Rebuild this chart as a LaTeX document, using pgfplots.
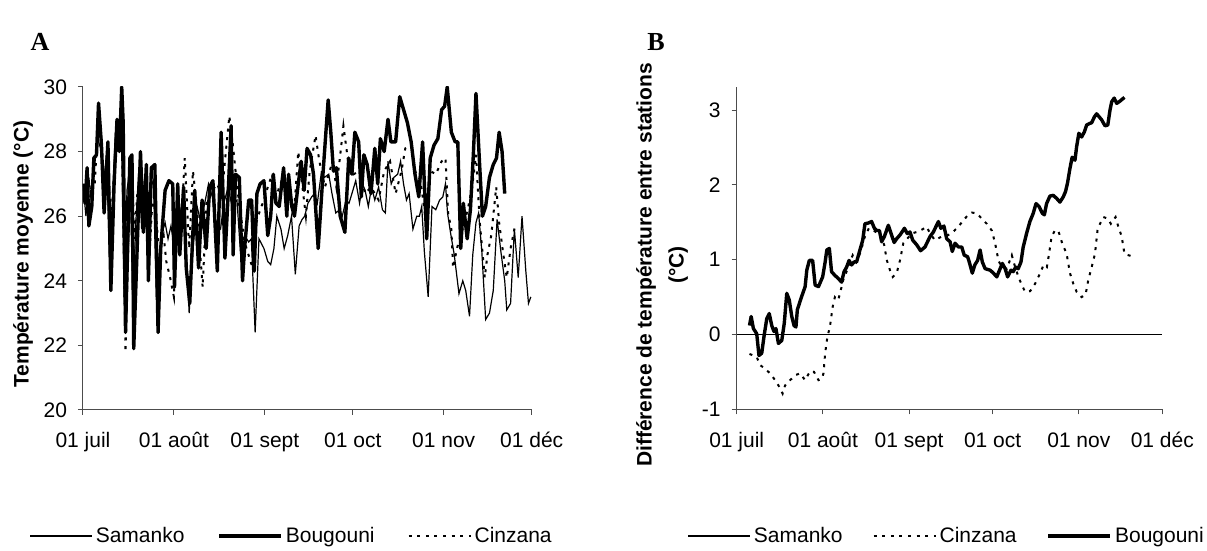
\documentclass[border=0pt]{standalone}
\usepackage{pgfplots}
\pgfplotsset{compat=1.18}
\usepackage{fontspec}
\setmainfont{Liberation Sans}
\newfontfamily\panelfont{Liberation Serif}

% Daily mean temperature (x = days since 1 July)
\pgfplotstableread{
day temp
0 27.0
1 26.0
2 27.2
3 26.3
4 27.6
5 28.4
6 28.1
7 27.0
8 27.9
9 24.8
10 26.4
11 28.5
12 28.3
13 29.1
14 23.5
15 26.8
16 27.5
17 23.2
18 25.8
19 27.4
20 25.6
21 27.2
22 24.8
23 26.9
24 27.1
25 23.5
26 24.8
27 25.5
28 25.8
29 25.3
30 25.7
31 25.1
33 26.0
34.3 26.7
36.2 23.0
37.5 25.0
38.9 26.3
40.2 25.8
41.5 26.4
42.8 27.0
44.1 26.6
45.6 25.5
46.9 25.6
48 26.4
49.5 26.9
50.6 26.4
51.5 26.4
52.5 26.5
53.6 25.0
55.1 25.4
56.5 25.2
57.4 25.3
58.7 22.4
60 25.3
61.7 25.0
63 24.6
64 24.5
65.1 25.0
66.1 26.0
67.5 25.6
68.6 25.0
69.8 25.4
71.1 26.0
72.4 24.2
73.7 25.7
74.7 25.9
75.6 26.0
76.7 26.4
78 26.6
78.9 26.7
79.9 26.4
81.2 27.3
82.3 27.2
83.8 27.3
84.9 26.7
86.2 26.1
87.5 26.2
88.4 26.0
89.7 26.5
90.7 26.4
91.7 26.7
93 27.1
94.3 26.4
95.3 27.0
96.2 26.8
97.3 26.3
98.4 26.9
99.5 26.5
100.8 26.9
102.1 26.2
103.1 26.1
104 27.7
105.1 27.0
106 27.2
107.3 27.3
108.3 27.7
109.3 27.0
110.3 26.5
111.2 26.7
112.5 25.6
113.8 26.0
114.7 26.0
115.5 26.3
116.4 24.9
117.7 23.5
119 26.3
120.3 26.2
121.6 26.5
122.7 26.6
123.6 27.0
124.3 26.1
125.3 25.5
126.6 24.8
128.2 23.6
129.5 24.0
130.5 23.7
131.8 22.9
132.9 24.8
134 25.8
134.9 26.1
136 24.9
137.3 22.8
138.6 23.0
139.9 23.7
141.2 25.9
142.5 24.9
143.8 24.0
144.5 23.1
145.8 23.3
147.1 25.6
148.4 24.1
149.7 26.0
151 24.3
151.9 23.3
152.7 23.5
}\samanko

\pgfplotstableread{
day temp
0 27.0
0.7 26.4
1.4 27.5
2 25.7
3 26.3
3.7 27.8
4.6 27.9
5.3 29.5
6.3 28.2
7.2 26.1
8.5 28.3
9.5 23.7
10.6 27.0
11.6 29.0
12.4 28.0
13.2 30.0
13.7 28.9
14.5 22.4
16 27.8
16.7 27.9
17.3 21.9
19.6 28.0
20.6 25.5
21.6 27.6
22.3 24.0
23.3 27.5
24.5 27.6
25.6 22.4
26.5 25.0
28 26.8
29.3 27.1
30.6 27.0
31.2 23.8
32.3 27.0
33 24.8
34.3 26.9
35.2 24.4
36.4 23.3
38.1 26.8
39.4 24.4
40.6 26.5
42 25.0
43.2 26.9
44.3 27.1
45.8 24.3
47.1 28.6
48.4 24.7
49.4 26.5
50.5 28.8
51.2 24.8
52 27.3
53.3 27.2
54.4 24.0
55.1 25.0
56.5 26.5
57.5 26.5
58.4 24.3
59.3 26.7
60.4 27.0
61.7 27.1
63 25.4
64 26.0
64.9 27.3
65.8 26.4
66.9 26.3
68.4 27.5
69.5 26.0
70.1 27.3
71.2 26.3
72.1 26.0
73.4 27.0
74.4 27.7
75.4 26.8
76.4 28.1
77.6 27.9
78.6 27.3
80.2 25.0
81.9 27.4
83.6 29.6
84.5 28.6
85.4 27.4
86.4 27.5
87.7 26.0
89.3 25.5
90.6 27.8
91.7 27.3
92.7 28.6
94 28.3
94.9 26.6
95.8 27.9
96.9 27.6
98.2 26.7
99.5 28.1
100.5 27.0
101.4 28.4
102.7 28.0
104 29.0
105 28.3
106.6 28.3
108 29.7
109.3 29.3
110.6 28.9
111.9 28.3
113.2 27.3
114.5 26.6
115.8 28.3
117.2 25.3
118.4 27.8
119.7 28.2
121 28.4
122.3 29.3
123.3 29.4
124.2 30.0
125.6 28.6
126.9 28.3
127.8 28.3
128.8 25.0
129.7 26.4
131 25.3
132.1 26.2
133.1 27.9
134 29.8
135.3 27.5
136.2 26.0
137.3 26.3
138.6 27.2
139.9 27.6
141 27.8
141.9 28.6
142.9 28.0
143.8 26.7
}\bougouni

\pgfplotstableread{
day temp
0 27.0
0.7 26.7
1.4 26.0
2.2 26.4
3 27.0
4 27.0
5.3 29.2
6.3 28.3
7.2 26.6
8.5 27.6
9.5 25.8
10.6 27.3
11.6 28.6
12.4 28.1
13.2 28.9
14.5 21.8
15.5 25.4
16.7 27.6
17.5 25.3
18.6 26.8
19.6 27.2
20.6 26.0
21.6 26.9
22.5 24.5
23.5 26.2
24.5 26.6
25.6 25.2
26.5 25.1
27.5 25.4
28.4 24.6
29.7 24.1
31 23.5
31.9 26.3
33 25.0
34.7 27.8
36.2 25.0
37.5 27.4
38.9 26.2
40.8 23.8
42.1 26.4
44.1 26.8
45.8 27.0
47.3 26.6
48.5 27.8
49.9 29.1
51 28.3
51.9 27.5
53.2 26.4
55.1 25.2
57.8 24.4
59.1 25.8
60.4 26.2
61.7 26.5
63 26.9
64.5 27.3
65.6 26.5
66.9 26.9
68.2 27.2
70.1 26.7
72.1 26.3
73.4 28.0
74.7 27.0
76 26.0
77.3 27.4
79.3 28.5
80.6 27.7
82.5 26.9
83.8 27.3
85.1 27.7
86.4 26.9
87.6 27.8
88.8 28.8
90.4 27.7
92.3 27.3
94.3 27.4
96.2 26.7
98.2 26.9
100.8 26.5
102.7 27.4
104.7 27.7
106.6 26.7
108.6 27.4
109.9 28.1
111.9 28.2
113.2 27.4
115.1 27.1
116.7 26.0
118.4 27.4
120.3 27.3
122.3 27.7
123.6 27.8
124.5 26.1
125.6 25.6
126.2 24.4
127.5 25.0
128.8 25.4
130.1 25.8
131.4 26.3
132.7 26.9
134 27.9
135.3 25.8
137 24.1
137.9 24.8
139.2 25.4
140.9 26.9
141.9 25.8
143.2 24.9
144.5 24.1
145.8 25.0
147.3 25.7
}\cinzana

% Temperature difference relative to Samanko
\pgfplotstableread{
day diff
0 0
153 0
}\diffsamanko

\pgfplotstableread{
day diff
4.6 -0.26
7.2 -0.30
8.4 -0.41
10 -0.45
12.0 -0.52
13.8 -0.61
15.0 -0.68
16.5 -0.79
17.4 -0.68
19.2 -0.61
21.3 -0.54
22.8 -0.52
24.6 -0.61
26.4 -0.49
27.8 -0.50
29.4 -0.61
30.6 -0.59
31.2 -0.52
31.8 -0.25
32.6 -0.03
33.5 0.10
34.5 0.37
35.3 0.50
36.5 0.46
37.4 0.59
38.3 0.73
39.3 0.82
40.5 0.95
41.7 1.06
43 0.97
44.5 1.10
46 1.30
47.5 1.42
49 1.40
50.3 1.36
51.5 1.35
53 1.20
54 0.99
55.1 0.86
56.1 0.77
57.5 0.82
58.7 0.99
59.9 1.22
61.3 1.28
62.9 1.35
64.7 1.37
66.5 1.40
68.3 1.44
69.5 1.35
71.3 1.26
73.7 1.31
76.1 1.33
78 1.38
79.7 1.44
81.5 1.53
83.3 1.60
84.5 1.63
86.3 1.62
88.1 1.55
89.9 1.48
91.7 1.39
92.9 1.22
94.1 0.99
95.3 0.90
97.1 0.88
98.9 1.06
100.1 0.90
101.3 0.77
102.5 0.66
103.7 0.57
105.5 0.58
107.3 0.68
109.1 0.82
110.3 0.93
111.5 0.90
112.3 1.08
113.2 1.31
114.4 1.39
115.6 1.39
117.0 1.22
118.6 1.08
119.8 0.82
121.0 0.68
122.2 0.57
124.0 0.50
125.4 0.53
126.4 0.73
127.6 0.90
128.8 1.08
129.7 1.39
130.6 1.48
131.8 1.57
133.4 1.55
134.5 1.48
136.2 1.57
137.2 1.44
138.4 1.31
139.4 1.08
140.8 1.06
142.6 1.04
}\diffcinzana

\pgfplotstableread{
day diff
4.6 0.12
5.2 0.24
6.0 0.08
7.2 0.01
8.0 -0.28
9.0 -0.25
9.8 -0.03
10.8 0.21
11.7 0.28
12.6 0.12
13.4 0.04
14.1 0.08
15.0 -0.12
16.2 -0.08
17.1 0.15
18.0 0.55
18.9 0.46
19.8 0.24
20.6 0.12
21.3 0.10
21.8 0.33
23.1 0.48
24.6 0.64
25.2 0.86
26.1 0.99
27.3 0.99
28.2 0.66
29.4 0.64
30.9 0.77
31.8 0.97
32.4 1.13
33.3 1.15
34.1 0.84
35.3 0.79
36.5 0.75
37.7 0.70
38.6 0.84
39.5 0.90
40.4 0.99
41.3 0.93
42.2 0.97
43.1 0.97
44.3 1.13
45.3 1.26
46.1 1.48
47.3 1.49
48.5 1.51
49.5 1.42
50.3 1.39
51.3 1.39
52.1 1.24
53.1 1.31
54.5 1.46
55.5 1.35
56.6 1.23
57.5 1.28
58.7 1.33
60.3 1.42
61.3 1.35
62.3 1.37
63.3 1.26
64.7 1.20
66.1 1.12
67.7 1.17
69.5 1.31
70.7 1.37
72.5 1.51
73.4 1.42
74.5 1.45
75.5 1.28
76.7 1.24
77.5 1.11
78.5 1.22
79.7 1.17
80.9 1.17
81.8 1.06
83.0 1.04
83.6 0.97
84.7 0.82
85.6 0.93
86.6 0.99
87.5 1.13
88.3 0.97
89.3 0.88
91.1 0.86
92.3 0.82
93.5 0.77
94.7 0.88
95.5 0.95
96.5 0.88
97.4 0.77
98.6 0.86
99.4 0.84
100.3 0.90
101.2 0.88
102.2 0.97
103.0 1.17
104.2 1.35
105.4 1.51
106.6 1.62
107.6 1.75
108.7 1.71
109.9 1.62
110.6 1.60
111.4 1.75
112.6 1.85
113.8 1.86
115.0 1.82
116.2 1.77
117.4 1.84
118.2 1.91
118.9 2.02
119.8 2.22
120.6 2.37
121.6 2.33
122.2 2.51
123.0 2.69
124.0 2.64
125.0 2.71
125.8 2.80
126.8 2.82
127.6 2.83
128.6 2.91
129.4 2.95
130.3 2.91
131.2 2.87
132.4 2.79
133.4 2.80
134.2 3.00
134.8 3.11
135.7 3.16
136.6 3.09
137.8 3.12
139.4 3.17
}\diffbougouni

\pgfplotsset{
  station/.style={
    scale only axis,
    axis x line=bottom, axis y line=left,
    axis line style={-, black!70, line width=0.5pt},
    tick style={black!70, line width=0.5pt},
    major tick length=2.5pt,
    tick align=outside,
    font=\fontsize{10.5}{12}\selectfont,
    /pgf/number format/assume math mode=true,
    xmin=0, xmax=153,
    xtick={0,31,62,92,123,153},
    xticklabels={01 juil,01 août,01 sept,01 oct,01 nov,01 déc},
    xticklabel style={anchor=base, yshift=-16.5pt},
    yticklabel style={xshift=-2pt},
    legend columns=3,
    legend cell align=left,
    legend style={draw=none, fill=none, inner sep=0pt,
      font=\fontsize{10.5}{12}\selectfont,
      nodes={inner xsep=1.5pt},
      /tikz/every even column/.append style={column sep=15pt}},
    legend image code/.code={\draw[##1] (0pt,0pt) -- (31pt,0pt);},
  },
  samanko/.style={black, line width=0.6pt},
  bougouni/.style={black, line width=1.7pt, line join=round},
  cinzana/.style={black, line width=1pt, dash pattern=on 1.5pt off 2.8pt},
}

\begin{document}
\begin{tikzpicture}[x=1pt,y=1pt]
\useasboundingbox (0,0) rectangle (603.5,275.5);

% Panel A: daily mean temperature
\begin{axis}[station,
  at={(41.5pt,70.5pt)}, anchor=south west,
  width=224.35pt, height=161.5pt,
  ymin=20, ymax=30, ytick={20,22,...,30},
  legend style={at={(-0.12,-0.39)}, anchor=west},
]
\addplot[samanko] table[x=day, y=temp] {\samanko};
\addlegendentry{Samanko}
\addplot[bougouni] table[x=day, y=temp] {\bougouni};
\addlegendentry{Bougouni}
\addplot[cinzana] table[x=day, y=temp] {\cinzana};
\addlegendentry{Cinzana}
\end{axis}

% Panel B: difference between stations
\begin{axis}[station,
  at={(368.35pt,70.85pt)}, anchor=south west,
  width=212.8pt, height=161.2pt,
  ymin=-1, ymax=3.31, ytick={-1,0,1,2,3},
  yticklabels={-1,0,1,2,3},
  legend style={at={(-0.117,-0.393)}, anchor=west,
    /tikz/every even column/.append style={column sep=13.5pt}},
]
\addplot[samanko, line width=0.8pt] table[x=day, y=diff] {\diffsamanko};
\addlegendentry{Samanko}
\addplot[cinzana] table[x=day, y=diff] {\diffcinzana};
\addlegendentry{Cinzana}
\addplot[bougouni] table[x=day, y=diff] {\diffbougouni};
\addlegendentry{Bougouni}
\end{axis}

% Panel letters and axis titles
\node[font=\panelfont\bfseries\fontsize{13}{14}\selectfont] at (20,254.5) {A};
\node[font=\panelfont\bfseries\fontsize{13}{14}\selectfont] at (328,254.5) {B};
\node[rotate=90, font=\bfseries\fontsize{10.5}{12}\selectfont] at (11.5,148.5)
  {Température moyenne (°C)};
\node[rotate=90, align=center, font=\bfseries\fontsize{10.5}{16}\selectfont] at (331,143)
  {Différence de température entre stations\\(°C)};
\end{tikzpicture}
\end{document}
